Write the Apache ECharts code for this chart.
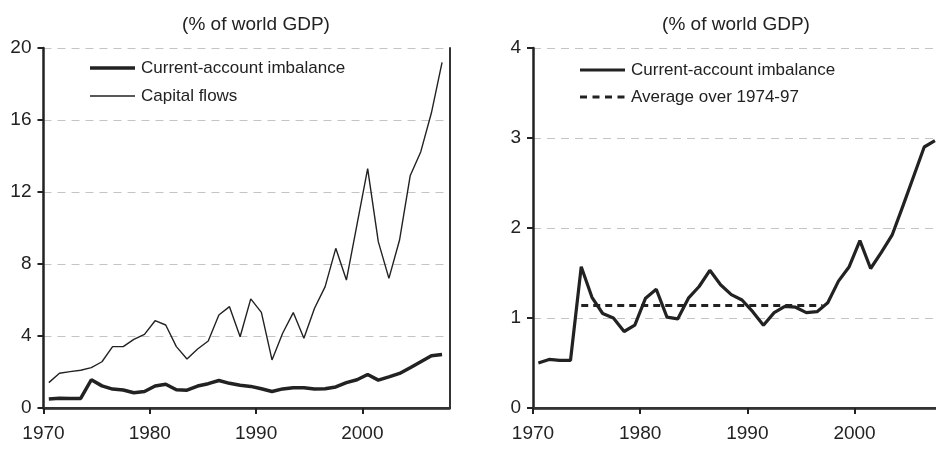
<!DOCTYPE html>
<html lang="en">
<head>
	<meta charset="UTF-8">
	<title>Current-account imbalance and capital flows</title>
	<script src="https://cdn.jsdelivr.net/npm/echarts@6/dist/echarts.min.js"></script>
	<style>
		html, body { margin: 0; padding: 0; background: #fff; }
		#charts { width: 936px; height: 449px; }
	</style>
</head>
<body>
<div id="charts"></div>
<script>
	// years (plotted at mid-year)
	var years = [1970, 1971, 1972, 1973, 1974, 1975, 1976, 1977, 1978, 1979,
		1980, 1981, 1982, 1983, 1984, 1985, 1986, 1987, 1988, 1989,
		1990, 1991, 1992, 1993, 1994, 1995, 1996, 1997, 1998, 1999,
		2000, 2001, 2002, 2003, 2004, 2005, 2006, 2007];
	// current-account imbalance, % of world GDP
	var imbalance = [0.50, 0.54, 0.53, 0.53, 1.57, 1.23, 1.05, 1.00, 0.85, 0.92,
		1.22, 1.32, 1.01, 0.99, 1.22, 1.35, 1.53, 1.37, 1.26, 1.20,
		1.07, 0.92, 1.06, 1.13, 1.12, 1.06, 1.07, 1.17, 1.41, 1.57,
		1.86, 1.55, 1.73, 1.92, 2.24, 2.57, 2.90, 2.97];
	// capital flows, % of world GDP
	var capitalFlows = [1.41, 1.93, 2.02, 2.10, 2.24, 2.57, 3.41, 3.41, 3.81, 4.09,
		4.85, 4.61, 3.41, 2.72, 3.28, 3.72, 5.17, 5.63, 3.96, 6.06,
		5.31, 2.67, 4.15, 5.30, 3.87, 5.54, 6.74, 8.87, 7.11, 10.2,
		13.3, 9.24, 7.20, 9.33, 12.9, 14.24, 16.4, 19.2];
	// average over 1974-97
	var avgSpan = [1974.5, 1997];
	var avgValue = 1.14;

	var leftTicks = [0, 4, 8, 12, 16, 20];
	var rightTicks = [0, 1, 2, 3, 4];

	var ink = '#222';
	var font = 'Liberation Sans';

	function pairs(vals) {
		var out = [];
		for (var i = 0; i < vals.length; i++) {
			out.push([years[i] + 0.5, vals[i]]);
		}
		return out;
	}

	function xAxisFor(grid, max) {
		return [{
			type: 'value', gridIndex: grid, min: 1970, max: max, interval: 10,
			axisLine: {show: true, lineStyle: {color: ink, width: 2.5}},
			axisTick: {show: true, length: 6, lineStyle: {color: ink, width: 2}},
			axisLabel: {
				color: ink, fontFamily: font, fontSize: 19, margin: 16, showMaxLabel: false,
				formatter: function (v) { return String(v); }
			},
			splitLine: {show: false}
		}, {
			type: 'value', gridIndex: grid, position: 'top', min: 1970, max: max, interval: 10,
			axisLine: {show: true, lineStyle: {color: '#333', width: 2}},
			axisTick: {show: false}, axisLabel: {show: false}, splitLine: {show: false}
		}];
	}

	function yAxisFor(grid, ticks, rightLine) {
		var step = ticks[1] - ticks[0];
		return [{
			type: 'value', gridIndex: grid, min: ticks[0], max: ticks[ticks.length - 1], interval: step,
			axisLine: {show: true, lineStyle: {color: ink, width: 2.5}},
			axisTick: {show: true, length: 6, lineStyle: {color: ink, width: 2}},
			axisLabel: {color: ink, fontFamily: font, fontSize: 19, margin: 12},
			splitLine: {show: true, lineStyle: {color: '#c4c4c4', width: 1, type: [8, 6]}}
		}, {
			type: 'value', gridIndex: grid, position: 'right', min: ticks[0], max: ticks[ticks.length - 1], interval: step,
			axisLine: {show: rightLine, lineStyle: {color: '#333', width: 2}},
			axisTick: {show: false}, axisLabel: {show: false}, splitLine: {show: false}
		}];
	}

	function legendRow(x, y, text, style) {
		return [{
			type: 'line', shape: {x1: x, y1: y, x2: x + 45, y2: y}, style: style, z: 10
		}, {
			type: 'text', x: x + 51, y: y, z: 10,
			style: {text: text, fill: ink, font: '17px "' + font + '"', textVerticalAlign: 'middle'}
		}];
	}

	var charts = echarts.init(document.getElementById('charts'));

	charts.setOption({
		animation: false,
		backgroundColor: '#fff',
		title: [{
			text: '(% of world GDP)', left: 251, top: 10, textAlign: 'center',
			textStyle: {color: ink, fontFamily: font, fontSize: 19, fontWeight: 'normal'}
		}, {
			text: '(% of world GDP)', left: 731, top: 10, textAlign: 'center',
			textStyle: {color: ink, fontFamily: font, fontSize: 19, fontWeight: 'normal'}
		}],
		graphic: [].concat(
			legendRow(90, 68, 'Current-account imbalance', {stroke: ink, lineWidth: 3.5}),
			legendRow(90, 96, 'Capital flows', {stroke: ink, lineWidth: 1.4}),
			legendRow(580, 70, 'Current-account imbalance', {stroke: ink, lineWidth: 3}),
			legendRow(580, 97, 'Average over 1974-97', {stroke: ink, lineWidth: 3, lineDash: [7, 5.5]})
		),
		grid: [
			{left: 43.5, top: 48, width: 406, bottom: 41},
			{left: 533, top: 48, right: 0, bottom: 41}
		],
		xAxis: xAxisFor(0, 2008.2).concat(xAxisFor(1, 2007.6)),
		yAxis: yAxisFor(0, leftTicks, true).concat(yAxisFor(1, rightTicks, false)),
		series: [{
			name: 'Current-account imbalance', type: 'line', xAxisIndex: 0, yAxisIndex: 0,
			showSymbol: false, color: ink, lineStyle: {color: ink, width: 3.5},
			data: pairs(imbalance), z: 3
		}, {
			name: 'Capital flows', type: 'line', xAxisIndex: 0, yAxisIndex: 0,
			showSymbol: false, color: ink, lineStyle: {color: ink, width: 1.4},
			data: pairs(capitalFlows), z: 2
		}, {
			name: 'Current-account imbalance', type: 'line', xAxisIndex: 2, yAxisIndex: 2,
			showSymbol: false, color: ink, lineStyle: {color: ink, width: 3.2},
			data: pairs(imbalance), z: 3
		}, {
			name: 'Average over 1974-97', type: 'line', xAxisIndex: 2, yAxisIndex: 2,
			showSymbol: false, color: ink, lineStyle: {color: ink, width: 3, type: [7, 5]},
			data: [[avgSpan[0], avgValue], [avgSpan[1], avgValue]], z: 2
		}]
	});
</script>
</body>
</html>
